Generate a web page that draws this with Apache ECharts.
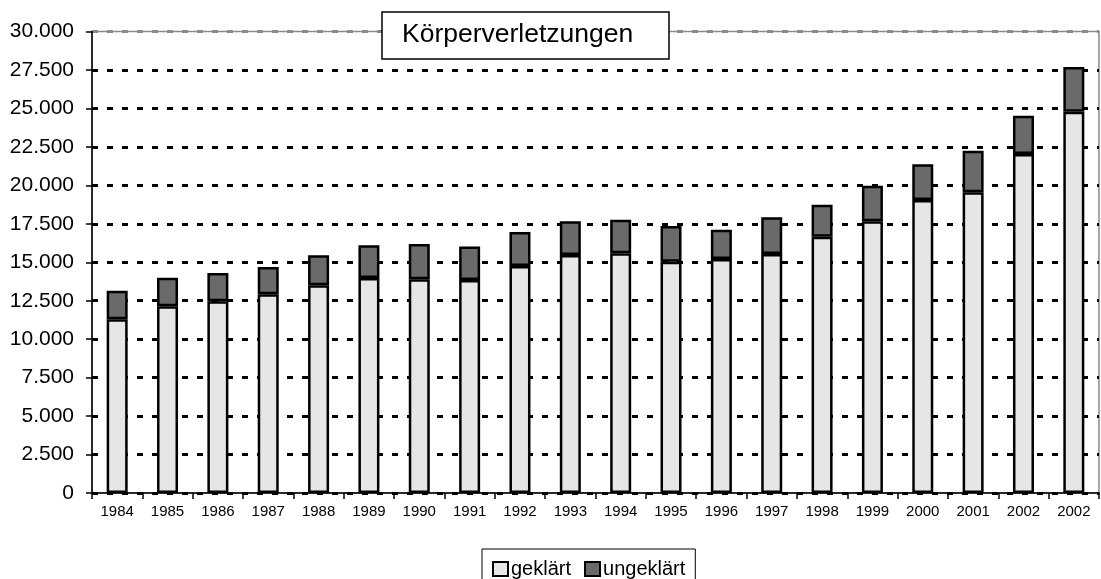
<!DOCTYPE html>
<html>
<head>
<meta charset="utf-8">
<script src="https://cdn.jsdelivr.net/npm/echarts@6/dist/echarts.min.js"></script>
<style>
html,body{margin:0;padding:0;background:#fff;}
#chart{width:1101px;height:579px;}
</style>
</head>
<body>
<div id="chart"></div>
<script>
const categories = ['1984','1985','1986','1987','1988','1989','1990','1991','1992','1993','1994','1995','1996','1997','1998','1999','2000','2001','2002','2002'];
const geklaert = [11290,12140,12460,12920,13500,13980,13900,13850,14760,15470,15590,15040,15210,15540,16660,17660,19050,19550,22040,24790];
const ungeklaert = [1860,1860,1840,1770,1950,2120,2290,2170,2210,2200,2180,2320,1910,2380,2080,2310,2320,2690,2490,2910];
const titleText = 'Körperverletzungen';
const seriesNames = ['geklärt','ungeklärt'];

const FONT = '"Liberation Sans", Arial, sans-serif';
const chart = echarts.init(document.getElementById('chart'), null, {renderer:'canvas'});

function fmt(v){ return String(v).replace(/\B(?=(\d{3})+(?!\d))/g,'.'); }

const gridColors = [];
for (let i = 0; i < 12; i++) gridColors.push('#000');
gridColors.push('#8a8a8a');

chart.setOption({
  backgroundColor:'#fff',
  animation:false,
  title:{
    text:titleText,
    left:382, top:12,
    padding:[10,36,11,20],
    borderColor:'#000', borderWidth:1.5,
    backgroundColor:'#fff',
    textStyle:{fontFamily:FONT,fontSize:26.5,fontWeight:'normal',color:'#000',lineHeight:26}
  },
  legend:{
    data:seriesNames,
    left:482, top:549,
    padding:[10,10,10,10],
    itemWidth:15, itemHeight:14, itemGap:13,
    borderColor:'#000', borderWidth:1,
    backgroundColor:'#fff',
    icon:'rect',
    textStyle:{fontFamily:FONT,fontSize:20,color:'#000',padding:[0,0,0,-2]}
  },
  grid:{
    left:92, right:2, top:31.5, bottom:86,
    show:true, borderColor:'#8a8a8a', borderWidth:1.5, backgroundColor:'#fff'
  },
  xAxis:{
    type:'category',
    data:categories,
    boundaryGap:true,
    axisLine:{lineStyle:{color:'#000',width:1.5}},
    axisTick:{show:true,length:6,lineStyle:{color:'#000',width:1.5},alignWithLabel:false},
    axisLabel:{fontFamily:FONT,fontSize:15,color:'#000',margin:11,interval:0}
  },
  yAxis:{
    type:'value',
    min:0, max:30000, interval:2500,
    axisLine:{show:true,lineStyle:{color:'#000',width:1.5}},
    axisTick:{show:true,length:6,lineStyle:{color:'#000',width:1.5}},
    axisLabel:{fontFamily:FONT,fontSize:21,color:'#000',margin:18,formatter:fmt},
    splitLine:{show:true,lineStyle:{color:gridColors,width:3,type:[6,9]}}
  },
  series:[
    {
      name:seriesNames[0], type:'bar', stack:'s', barWidth:21,
      data:geklaert,
      itemStyle:{color:'#e6e6e6',borderColor:'#000',borderWidth:2.5}
    },
    {
      name:seriesNames[1], type:'bar', stack:'s', barWidth:21,
      data:ungeklaert,
      itemStyle:{color:'#6a6a6a',borderColor:'#000',borderWidth:2.5}
    }
  ]
});
</script>
</body>
</html>
